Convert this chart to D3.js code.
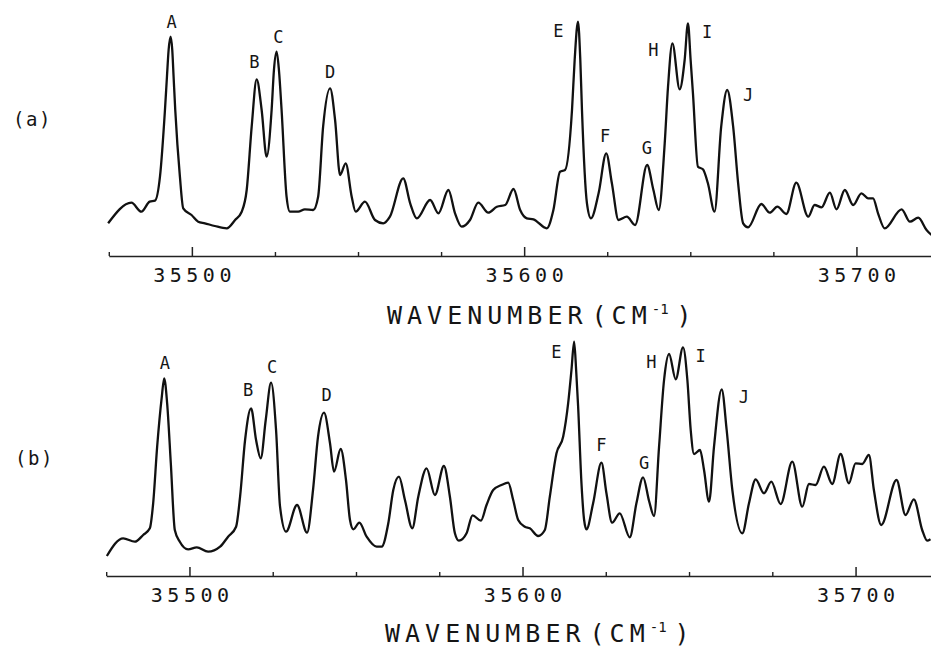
<!DOCTYPE html>
<html>
<head>
<meta charset="utf-8">
<script src="https://cdn.jsdelivr.net/npm/d3@7"></script>
<style>
  body { margin: 0; background: #fff; }
  svg { display: block; background: #fff; }
  text { font-family: "DejaVu Sans Mono", "Liberation Mono", monospace; fill: #151515; }
</style>
</head>
<body>
<svg id="chart" width="931" height="648"></svg>
<script>
// ---- spectrum (a): wavenumber (cm-1) and relative intensity ----
const topWavenumber = [
  35474.8, 35481.8, 35484.8, 35487.3, 35488.9, 35490.4, 35491.9, 35492.5, 35493.0, 35493.6,
  35494.1, 35494.5, 35495.0, 35496.4, 35497.4, 35499.9, 35501.9, 35503.9, 35506.9, 35510.5,
  35513.0, 35515.0, 35516.5, 35518.0, 35519.5, 35521.0, 35522.5, 35524.0, 35524.7, 35525.5,
  35526.2, 35527.0, 35528.5, 35529.5, 35532.0, 35534.0, 35536.5, 35538.0, 35539.5, 35541.6,
  35543.1, 35544.6, 35546.3, 35548.1, 35549.3, 35552.1, 35555.1, 35557.6, 35559.6, 35563.6,
  35565.7, 35567.7, 35571.7, 35574.2, 35577.2, 35579.2, 35581.2, 35583.7, 35586.2, 35589.2,
  35591.8, 35594.3, 35596.8, 35598.8, 35600.8, 35602.8, 35606.8, 35608.8, 35610.8, 35612.3,
  35614.4, 35615.2, 35616.2, 35616.9, 35617.4, 35618.9, 35620.1, 35622.4, 35624.7, 35626.4,
  35628.4, 35630.9, 35633.4, 35637.0, 35638.9, 35640.5, 35642.3, 35643.3, 35644.6, 35646.8,
  35648.3, 35649.3, 35650.1, 35650.8, 35652.3, 35653.8, 35655.3, 35657.3, 35659.3, 35661.1,
  35662.9, 35664.4, 35665.9, 35667.4, 35671.4, 35673.9, 35676.2, 35678.9, 35681.9, 35685.5,
  35687.4, 35689.5, 35692.0, 35694.0, 35696.5, 35699.0, 35701.5, 35703.5, 35705.0, 35706.5,
  35708.5, 35713.6, 35716.1, 35718.6, 35721.1, 35722.6
];
const topIntensity = [
  32.7, 53.3, 44.3, 54.3, 55.3, 79.3, 146, 179.3, 206, 219.3,
  206, 179.3, 146, 79.3, 47.7, 41, 34.3, 32.7, 30, 27.7,
  36, 44.3, 66, 129.3, 176.7, 146, 99.3, 146, 186, 204.3,
  186, 146, 59.3, 44.3, 44.3, 46.7, 46, 59.3, 129.3, 167.7,
  136, 81, 92.7, 59.3, 44.3, 54.3, 36, 32.7, 39.3, 77.7,
  52.7, 37.7, 56, 42.7, 66, 42.7, 29.3, 36, 53.3, 43.3,
  49.3, 51, 67, 46, 37.7, 36.7, 27.7, 46, 84.3, 86,
  146, 196, 234.3, 196, 146, 52.7, 37.7, 62.7, 102.7, 72.7,
  36, 39.3, 31, 91, 66, 46, 112.7, 169.3, 212.7, 166.7,
  196, 232.7, 196, 162.7, 89.3, 86.7, 72.7, 44.3, 129.3, 166,
  129.3, 72.7, 32.7, 28.7, 52, 43.3, 49.3, 42, 73.3, 39.3,
  51, 48.7, 63.3, 46.7, 66, 51, 62.7, 57.7, 57.7, 42.7,
  27.7, 46.7, 34.3, 38.3, 26, 21
];

// ---- spectrum (b) ----
const bottomWavenumber = [
  35475.2, 35480.1, 35483.6, 35486.1, 35488.1, 35489.1, 35490.3, 35491.7, 35492.4, 35493.3,
  35494.4, 35495.6, 35497.1, 35499.6, 35502.2, 35505.6, 35509.2, 35511.6, 35514.0, 35515.2,
  35516.7, 35518.5, 35520.0, 35521.4, 35522.9, 35524.5, 35526.0, 35527.2, 35529.0, 35532.3,
  35535.3, 35537.1, 35538.6, 35540.4, 35542.2, 35543.4, 35545.4, 35547.0, 35548.2, 35549.2,
  35551.0, 35553.2, 35556.2, 35557.7, 35559.7, 35561.2, 35562.9, 35564.7, 35566.9, 35568.7,
  35571.2, 35573.7, 35576.4, 35578.2, 35579.7, 35580.9, 35583.2, 35585.0, 35587.5, 35589.2,
  35591.2, 35593.7, 35595.7, 35597.2, 35598.7, 35600.7, 35602.2, 35604.7, 35606.7, 35608.2,
  35610.2, 35612.2, 35613.7, 35614.7, 35615.5, 35616.1, 35616.7, 35617.7, 35618.5, 35619.2,
  35621.2, 35623.7, 35625.2, 35626.9, 35629.2, 35632.2, 35634.2, 35636.2, 35638.0, 35639.5,
  35641.0, 35642.5, 35644.0, 35646.0, 35648.2, 35649.5, 35650.5, 35651.5, 35653.3, 35654.5,
  35656.0, 35657.5, 35659.8, 35661.3, 35663.0, 35666.0, 35668.0, 35670.0, 35672.5, 35674.7,
  35677.5, 35681.0, 35684.0, 35686.0, 35688.0, 35690.5, 35693.0, 35695.5, 35698.0, 35700.0,
  35702.0, 35704.0, 35705.5, 35707.7, 35712.3, 35715.0, 35717.5, 35720.0, 35721.5, 35722.5
];
const bottomIntensity = [
  20, 37.7, 34.3, 41, 47.7, 72.7, 129.3, 179.3, 197.7, 172.7,
  112.7, 46, 34.3, 26.7, 28.7, 24.3, 29.3, 39.3, 49.3, 79.3,
  136, 167.7, 136, 117.7, 156, 193.3, 146, 69.3, 44.3, 71,
  43.3, 86, 139.3, 163.3, 132.7, 104.3, 127, 96, 56, 46.7,
  53.3, 39.3, 29.3, 29.3, 52.7, 86, 99.3, 76, 47.7, 79.3,
  107.7, 81, 110, 79.3, 42.7, 35.3, 42.7, 60.7, 55.3, 71,
  86, 91, 93.3, 76, 56, 49.3, 47.7, 40, 46, 79.3,
  122.7, 139.3, 172.7, 206, 234.3, 206, 169.3, 92.7, 56, 46.7,
  72.7, 113.3, 82.7, 53.3, 62.7, 38.7, 72.7, 98.7, 75, 60,
  129.3, 196, 222, 196.7, 228.7, 196, 146, 122, 126, 106,
  74.3, 129.3, 186.7, 146, 86, 42.7, 72.7, 96.7, 82.7, 94.3,
  72, 114.3, 69.3, 92, 91, 109.3, 92, 122, 92.7, 112.7,
  112, 121, 86, 51, 96, 61, 76.7, 46, 35.3, 36.7
];

// ---- band labels (placed in data coordinates) ----
const bandLetters = ["A", "B", "C", "D", "E", "F", "G", "H", "I", "J"];
const topLabelWavenumber = [35493.9, 35518.8, 35526.0, 35541.6, 35610.3, 35624.4, 35636.9, 35638.9, 35655.1, 35667.4];
const topLabelIntensity = [234.3, 194.3, 218.7, 184.3, 225.3, 120, 107.7, 206, 224.3, 161];
const bottomLabelWavenumber = [35492.6, 35517.6, 35524.8, 35541.2, 35610.2, 35623.7, 35636.5, 35638.7, 35653.5, 35666.5];
const bottomLabelIntensity = [212.7, 186, 209.3, 181, 224.3, 131, 112.7, 214.3, 220, 179.3];

// ---- axis ticks and titles ----
const majorTicks = [35500, 35600, 35700];
const minorTicks = [35475, 35525, 35550, 35575, 35625, 35650, 35675];
const panelTags = ["(a)", "(b)"];
const axisTitle = "WAVENUMBER (CM";
const axisTitleExponent = "-1";
const axisTitleClose = ")";

const svg = d3.select("#chart");
const xDomain = [35475, 35722.5];
const yDomain = [0, 240];

const panels = [
  {
    wn: topWavenumber, inten: topIntensity,
    lx: topLabelWavenumber, ly: topLabelIntensity,
    xr: [108.8, 931.2], axisY: 256, top: 16,
    tag: panelTags[0], tagX: 13, tagY: 126,
    titleX: 387, titleY: 324
  },
  {
    wn: bottomWavenumber, inten: bottomIntensity,
    lx: bottomLabelWavenumber, ly: bottomLabelIntensity,
    xr: [106.2, 930.5], axisY: 576, top: 336,
    tag: panelTags[1], tagX: 15, tagY: 465,
    titleX: 385, titleY: 642
  }
];

panels.forEach(p => {
  const x = d3.scaleLinear().domain(xDomain).range(p.xr);
  const y = d3.scaleLinear().domain(yDomain).range([p.axisY, p.top]);
  const g = svg.append("g");

  // spectrum trace
  const pts = p.wn.map((w, i) => [w, p.inten[i]]);
  g.append("path")
    .datum(pts)
    .attr("fill", "none")
    .attr("stroke", "#111")
    .attr("stroke-width", 2.3)
    .attr("stroke-linejoin", "round")
    .attr("d", d3.line().x(d => x(d[0])).y(d => y(d[1])).curve(d3.curveMonotoneX));

  // minor ticks every 25 cm-1 (pointing up)
  const minorAxis = g.append("g")
    .attr("transform", `translate(0,${p.axisY})`)
    .call(d3.axisBottom(x).tickValues(minorTicks).tickSizeInner(-4).tickSizeOuter(0).tickFormat(""));
  minorAxis.select(".domain").attr("stroke", "#222").attr("stroke-width", 1.6);
  minorAxis.selectAll(".tick line").attr("stroke", "#222").attr("stroke-width", 1.4);

  // major ticks with labels
  const majorAxis = g.append("g")
    .attr("transform", `translate(0,${p.axisY})`)
    .call(d3.axisBottom(x).tickValues(majorTicks).tickSizeInner(-9).tickSizeOuter(0)
      .tickPadding(11.5).tickFormat(d3.format("d")));
  majorAxis.select(".domain").remove();
  majorAxis.selectAll(".tick line").attr("stroke", "#222").attr("stroke-width", 1.5);
  majorAxis.selectAll(".tick text")
    .attr("font-family", '"DejaVu Sans Mono", monospace')
    .attr("font-size", 20)
    .attr("letter-spacing", 4.5)
    .attr("dx", 2.2)
    .attr("fill", "#151515");

  // band labels
  g.selectAll("text.band")
    .data(bandLetters)
    .join("text")
    .attr("class", "band")
    .attr("x", (d, i) => x(p.lx[i]))
    .attr("y", (d, i) => y(p.ly[i]))
    .attr("dy", "0.36em")
    .attr("text-anchor", "middle")
    .attr("font-size", 17)
    .text(d => d);

  // panel tag
  g.append("text")
    .attr("x", p.tagX)
    .attr("y", p.tagY)
    .attr("font-size", 19)
    .attr("letter-spacing", 1.5)
    .text(p.tag);

  // axis title
  const t = g.append("text")
    .attr("x", p.titleX)
    .attr("y", p.titleY)
    .attr("font-size", 25)
    .attr("letter-spacing", 5)
    .attr("word-spacing", -16);
  t.append("tspan").text(axisTitle);
  t.append("tspan").attr("font-size", 14).attr("dy", -10).attr("letter-spacing", 0).text(axisTitleExponent);
  t.append("tspan").attr("dy", 10).attr("dx", 8).text(axisTitleClose);
});
</script>
</body>
</html>
